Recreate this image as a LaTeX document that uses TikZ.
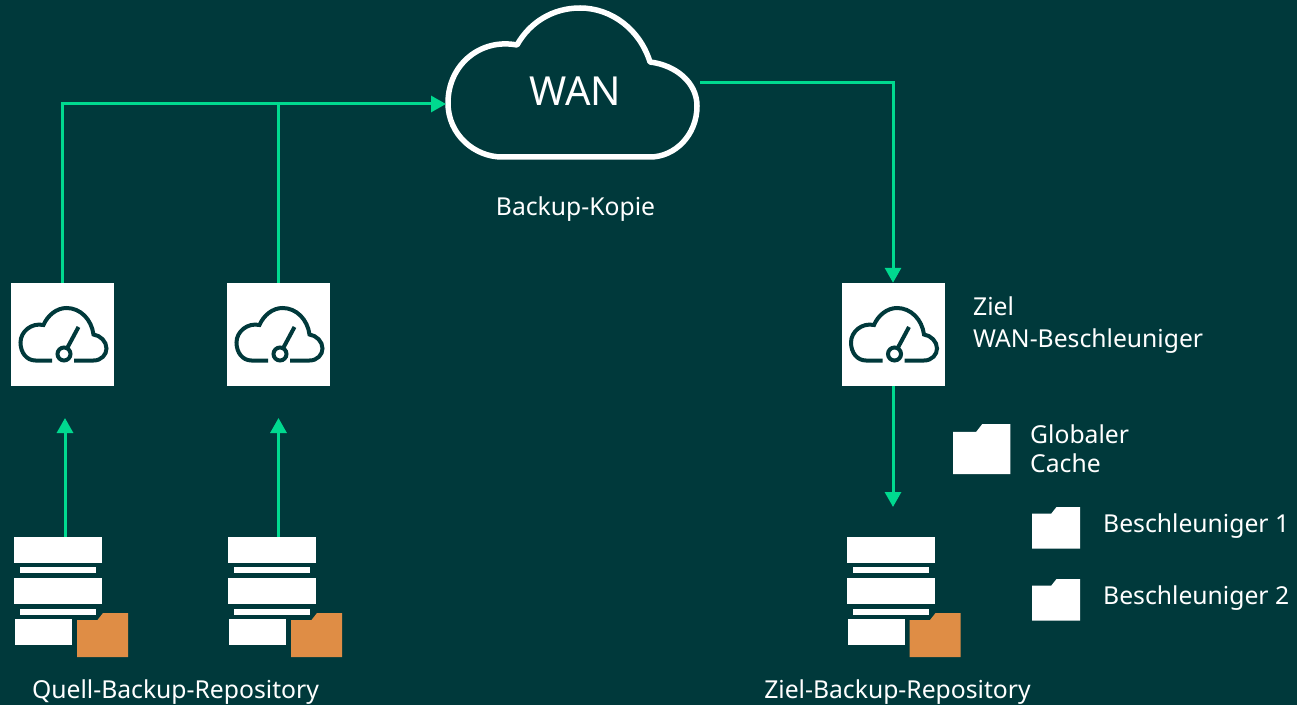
\documentclass[tikz,border=0pt]{standalone}
\usepackage{fontspec}
\setmainfont{Noto Sans}
\usetikzlibrary{arrows.meta}
\definecolor{bgteal}{HTML}{00393B}
\definecolor{linkgreen}{HTML}{00D98F}
\definecolor{folderorange}{HTML}{DF8D45}
\tikzset{
    link/.style={draw=linkgreen, line width=3pt},
    linkarrow/.style={link, -{Triangle[length=15pt,width=16pt]}},
    label/.style={text=white, font=\fontsize{24.7}{29}\selectfont, inner sep=0pt},
    labelleft/.style={label, anchor=west, align=left},
    accelbox/.style={fill=white, minimum size=103pt, inner sep=0pt},
    folder/.pic={\fill[pic actions] (0,0)--(0,37)--(20.5,37)--(26,44)--(51,44)--(51,0)--cycle;},
    accelicon/.pic={
        \draw[bgteal, line width=4pt] (11.5,-26)--(31,-26) .. controls (39,-26) and (44,-20) .. (44,-14) .. controls (44,-7) and (38,-1) .. (31,0) .. controls (29,15) and (18,26.5) .. (4,26.5) .. controls (-6,26.5) and (-15,19) .. (-19,9.5) .. controls (-31,12) and (-42,3) .. (-42,-8) .. controls (-42,-18) and (-36,-26) .. (-27,-26)--(-10.5,-26);
        \draw[bgteal, line width=4pt] (1.5,-19.5) circle (6.5);
        \draw[bgteal, line width=4pt] (5,-13)--(16,7.5);
    },
    repoicon/.pic={
        \fill[white] (0,0) rectangle (88,-25.5);
        \fill[white] (6,-30) rectangle (82,-36);
        \fill[white] (0,-41) rectangle (88,-67);
        \fill[white] (6,-72) rectangle (82,-78);
        \fill[white] (1,-82) rectangle (58,-108);
        \pic[fill=folderorange] at (63,-120) {folder};
    },
}
\begin{document}
\begin{tikzpicture}[x=1pt, y=1pt]
    \useasboundingbox[fill=bgteal] (0,0) rectangle (1297,705);
    % cloud
    \draw[white, line width=5.5pt, line join=round] (502,548)--(650,548) .. controls (675,548) and (697,570) .. (697,599) .. controls (697,623) and (675,640) .. (650,643) .. controls (640,675) and (612,697) .. (580,697) .. controls (553,697) and (530,683) .. (517,660) .. controls (480,667) and (448,640) .. (448,602) .. controls (448,570) and (475,548) .. (502,548)--cycle;
    \node[label, font=\fontsize{40}{45}\selectfont] (wan) at (575.5,614) {WAN};
    \node[label] (kopie) at (575.5,495.5) {Backup-Kopie};
    \coordinate (wanin) at (446,601);
    \coordinate (wanout) at (700,622);
    % accelerators
    \node[accelbox] (accelA) at (62.5,370.5) {};
    \node[accelbox] (accelB) at (278.5,370.5) {};
    \node[accelbox] (accelC) at (893,370.5) {};
    \foreach \Box in {accelA, accelB, accelC}{\pic at (\Box) {accelicon};}
    % repositories
    \pic at (14,168) {repoicon};
    \pic at (228,168) {repoicon};
    \pic at (846.5,168) {repoicon};
    \coordinate (repoA) at (65,168);
    \coordinate (repoB) at (278.5,168);
    \coordinate (repoC) at (893,198);
    \coordinate (tipA) at (65,287);
    \coordinate (tipB) at (278.5,287);
    % links
    \draw[linkarrow] (accelA.north)|-(wanin);
    \draw[link] (accelB.north)--(accelB.north |- wanin);
    \draw[linkarrow] (wanout)-|(accelC.north);
    \draw[linkarrow] (accelC.south)--(repoC);
    \draw[linkarrow] (repoA)--(tipA);
    \draw[linkarrow] (repoB)--(tipB);
    % caches
    \pic[fill=white, xscale=1.127, yscale=1.136] at (953,231) {folder};
    \pic[fill=white, xscale=0.941, yscale=0.943] at (1032,156.5) {folder};
    \pic[fill=white, xscale=0.941, yscale=0.943] at (1032,84.5) {folder};
    % texts
    \node[label] (quell) at (175.5,12.5) {Quell-Backup-Repository};
    \node[label] (ziel) at (897.5,12.5) {Ziel-Backup-Repository};
    \node[labelleft] (zielaccel) at (973,379.5) {Ziel\\[3pt]WAN-Beschleuniger};
    \node[labelleft] (cache) at (1030,256) {Globaler\\Cache};
    \node[labelleft] (acceleins) at (1103,178.5) {Beschleuniger 1};
    \node[labelleft] (accelzwei) at (1103,106.5) {Beschleuniger 2};
\end{tikzpicture}
\end{document}
